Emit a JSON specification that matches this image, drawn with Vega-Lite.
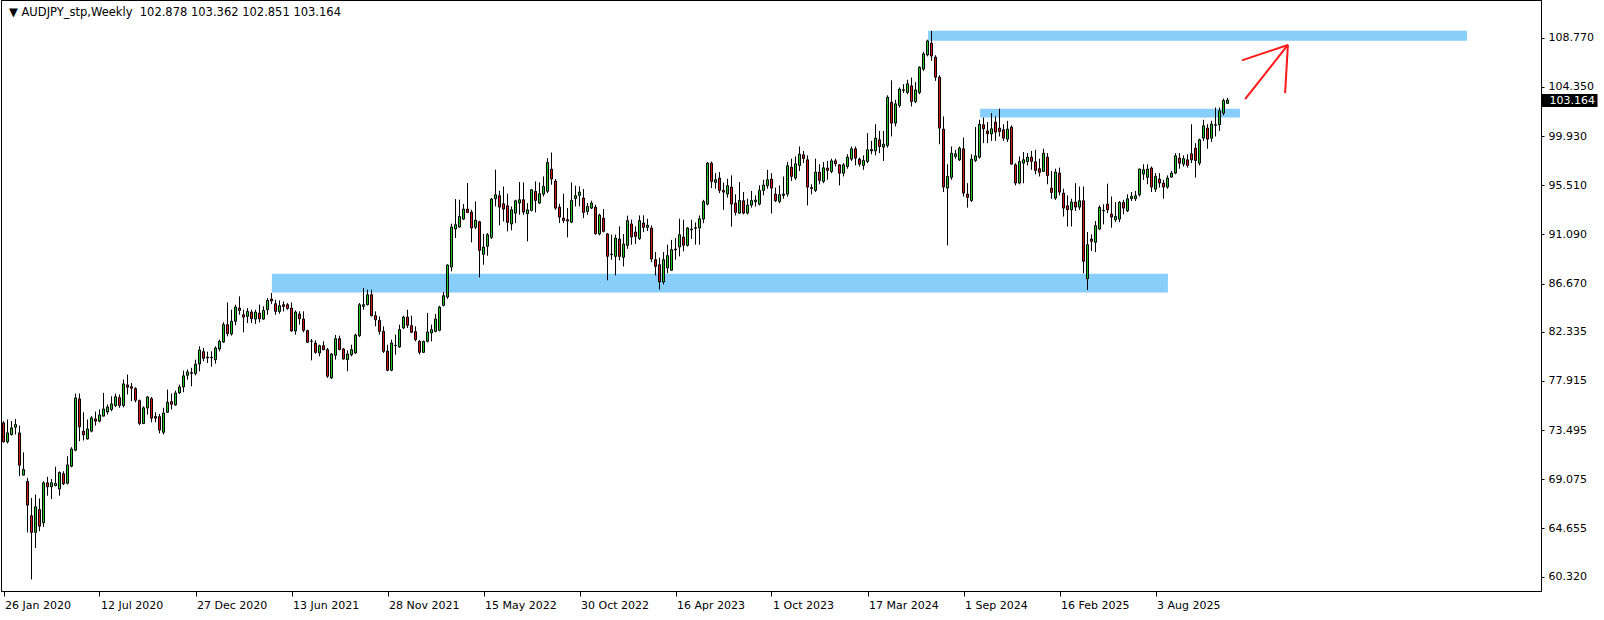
{
"$schema":"https://vega.github.io/schema/vega-lite/v6.json",
"width":1540,"height":591,
"autosize":{"type":"none"},
"padding":{"left":1,"top":0,"right":63,"bottom":29},
"background":"white",
"config":{"view":{"stroke":"black","strokeWidth":1},"font":"DejaVu Sans"},
"title":{"text":"▼ AUDJPY_stp,Weekly\u00a0\u00a0102.878 103.362 102.851 103.164","anchor":"start","frame":"group","orient":"top","offset":-18,"dx":8,"fontSize":11.5,"fontWeight":"normal","font":"DejaVu Sans","color":"black"},
"datasets":{
"candles":[
{"d":"2020-01-26","o":74.15,"h":74.3,"l":72.4,"c":72.44},
{"d":"2020-02-02","o":72.44,"h":74.45,"l":72.3,"c":73.25},
{"d":"2020-02-09","o":73.1,"h":74.3,"l":73.0,"c":73.7},
{"d":"2020-02-16","o":73.75,"h":74.5,"l":73.1,"c":74.0},
{"d":"2020-02-23","o":73.25,"h":73.9,"l":69.35,"c":70.34},
{"d":"2020-03-01","o":69.45,"h":71.5,"l":69.45,"c":69.95},
{"d":"2020-03-08","o":68.88,"h":69.2,"l":64.3,"c":66.75},
{"d":"2020-03-15","o":65.8,"h":67.4,"l":60.07,"c":64.3},
{"d":"2020-03-22","o":64.3,"h":67.7,"l":62.9,"c":66.6},
{"d":"2020-03-29","o":66.36,"h":67.35,"l":64.4,"c":64.86},
{"d":"2020-04-05","o":65.16,"h":68.9,"l":64.8,"c":68.76},
{"d":"2020-04-12","o":68.76,"h":69.3,"l":67.6,"c":68.4},
{"d":"2020-04-19","o":68.4,"h":69.1,"l":67.3,"c":68.76},
{"d":"2020-04-26","o":68.5,"h":70.2,"l":68.45,"c":68.7},
{"d":"2020-05-03","o":68.2,"h":69.77,"l":67.6,"c":69.7},
{"d":"2020-05-10","o":69.57,"h":69.8,"l":68.55,"c":68.67},
{"d":"2020-05-17","o":68.72,"h":71.15,"l":68.6,"c":70.37},
{"d":"2020-05-24","o":70.25,"h":71.96,"l":70.16,"c":71.8},
{"d":"2020-05-31","o":71.69,"h":76.78,"l":71.6,"c":76.39},
{"d":"2020-06-07","o":76.3,"h":76.78,"l":72.5,"c":73.79},
{"d":"2020-06-14","o":73.4,"h":75.1,"l":72.56,"c":73.07},
{"d":"2020-06-21","o":72.7,"h":74.45,"l":72.65,"c":73.6},
{"d":"2020-06-28","o":73.4,"h":74.74,"l":73.3,"c":74.6},
{"d":"2020-07-05","o":74.5,"h":75.16,"l":73.9,"c":74.3},
{"d":"2020-07-12","o":74.3,"h":75.34,"l":74.2,"c":74.86},
{"d":"2020-07-19","o":74.75,"h":76.84,"l":74.75,"c":75.4},
{"d":"2020-07-26","o":75.13,"h":75.8,"l":74.9,"c":75.58},
{"d":"2020-08-02","o":75.35,"h":76.54,"l":75.2,"c":75.85},
{"d":"2020-08-09","o":75.7,"h":76.78,"l":75.58,"c":76.5},
{"d":"2020-08-16","o":76.42,"h":76.7,"l":75.5,"c":75.7},
{"d":"2020-08-23","o":75.7,"h":78.04,"l":75.55,"c":77.65},
{"d":"2020-08-30","o":77.56,"h":78.49,"l":76.7,"c":77.35},
{"d":"2020-09-06","o":77.4,"h":77.74,"l":76.09,"c":77.26},
{"d":"2020-09-13","o":77.23,"h":77.35,"l":76.0,"c":76.18},
{"d":"2020-09-20","o":76.15,"h":76.24,"l":73.94,"c":74.09},
{"d":"2020-09-27","o":74.09,"h":75.64,"l":74.09,"c":75.5},
{"d":"2020-10-04","o":75.49,"h":76.54,"l":74.9,"c":76.48},
{"d":"2020-10-11","o":76.33,"h":76.48,"l":74.2,"c":74.57},
{"d":"2020-10-18","o":74.72,"h":75.1,"l":74.2,"c":74.57},
{"d":"2020-10-25","o":74.7,"h":74.95,"l":73.2,"c":73.5},
{"d":"2020-11-01","o":73.3,"h":75.5,"l":73.1,"c":75.04},
{"d":"2020-11-08","o":75.1,"h":77.14,"l":75.04,"c":76.0},
{"d":"2020-11-15","o":76.06,"h":76.78,"l":75.34,"c":75.82},
{"d":"2020-11-22","o":75.76,"h":77.05,"l":75.7,"c":76.84},
{"d":"2020-11-29","o":76.84,"h":77.59,"l":76.75,"c":77.38},
{"d":"2020-12-06","o":77.38,"h":78.84,"l":76.9,"c":78.37},
{"d":"2020-12-13","o":78.43,"h":78.94,"l":78.04,"c":78.73},
{"d":"2020-12-20","o":78.6,"h":79.1,"l":77.44,"c":78.67},
{"d":"2020-12-27","o":78.58,"h":79.83,"l":78.43,"c":79.44},
{"d":"2021-01-03","o":79.44,"h":81.03,"l":78.79,"c":80.7},
{"d":"2021-01-10","o":80.55,"h":80.88,"l":79.68,"c":79.95},
{"d":"2021-01-17","o":80.07,"h":80.55,"l":79.53,"c":79.98},
{"d":"2021-01-24","o":80.0,"h":80.58,"l":79.2,"c":80.05},
{"d":"2021-01-31","o":79.83,"h":81.03,"l":79.47,"c":80.88},
{"d":"2021-02-07","o":80.79,"h":81.63,"l":80.58,"c":81.48},
{"d":"2021-02-14","o":81.42,"h":83.19,"l":81.33,"c":82.98},
{"d":"2021-02-21","o":82.98,"h":84.98,"l":81.93,"c":82.17},
{"d":"2021-02-28","o":82.14,"h":84.32,"l":81.99,"c":83.28},
{"d":"2021-03-07","o":83.28,"h":84.77,"l":82.92,"c":84.56},
{"d":"2021-03-14","o":84.47,"h":85.52,"l":83.87,"c":84.26},
{"d":"2021-03-21","o":83.87,"h":84.32,"l":82.29,"c":83.66},
{"d":"2021-03-28","o":83.72,"h":84.47,"l":83.13,"c":84.17},
{"d":"2021-04-04","o":84.11,"h":84.32,"l":83.13,"c":83.51},
{"d":"2021-04-11","o":83.48,"h":84.32,"l":83.04,"c":84.11},
{"d":"2021-04-18","o":84.02,"h":84.77,"l":83.19,"c":83.51},
{"d":"2021-04-25","o":83.48,"h":84.62,"l":83.42,"c":84.26},
{"d":"2021-05-02","o":84.32,"h":85.37,"l":83.87,"c":85.16},
{"d":"2021-05-09","o":85.28,"h":85.82,"l":84.83,"c":85.1},
{"d":"2021-05-16","o":84.86,"h":85.22,"l":83.87,"c":84.17},
{"d":"2021-05-23","o":84.17,"h":85.16,"l":83.96,"c":84.68},
{"d":"2021-05-30","o":84.77,"h":85.07,"l":84.17,"c":84.62},
{"d":"2021-06-06","o":84.77,"h":84.92,"l":84.32,"c":84.44},
{"d":"2021-06-13","o":84.47,"h":84.98,"l":82.35,"c":82.41},
{"d":"2021-06-20","o":82.41,"h":84.26,"l":82.08,"c":84.11},
{"d":"2021-06-27","o":83.93,"h":84.17,"l":82.98,"c":83.51},
{"d":"2021-07-04","o":83.48,"h":84.17,"l":82.29,"c":82.47},
{"d":"2021-07-11","o":82.44,"h":82.53,"l":81.33,"c":81.39},
{"d":"2021-07-18","o":81.5,"h":81.69,"l":79.77,"c":81.48},
{"d":"2021-07-25","o":81.33,"h":81.57,"l":80.37,"c":80.49},
{"d":"2021-08-01","o":80.43,"h":81.18,"l":80.13,"c":81.09},
{"d":"2021-08-08","o":81.09,"h":81.48,"l":80.67,"c":80.73},
{"d":"2021-08-15","o":80.73,"h":80.88,"l":78.19,"c":78.34},
{"d":"2021-08-22","o":78.19,"h":80.43,"l":78.1,"c":80.34},
{"d":"2021-08-29","o":80.22,"h":82.05,"l":79.83,"c":81.72},
{"d":"2021-09-05","o":81.72,"h":81.99,"l":80.67,"c":80.73},
{"d":"2021-09-12","o":80.79,"h":80.88,"l":79.83,"c":79.89},
{"d":"2021-09-19","o":79.83,"h":80.67,"l":78.79,"c":80.34},
{"d":"2021-09-26","o":80.28,"h":81.18,"l":80.13,"c":80.73},
{"d":"2021-10-03","o":80.43,"h":82.17,"l":80.37,"c":82.05},
{"d":"2021-10-10","o":81.99,"h":84.92,"l":81.87,"c":84.77},
{"d":"2021-10-17","o":84.62,"h":86.27,"l":84.32,"c":84.77},
{"d":"2021-10-24","o":84.77,"h":86.12,"l":84.71,"c":85.67},
{"d":"2021-10-31","o":85.67,"h":86.12,"l":83.72,"c":83.78},
{"d":"2021-11-07","o":83.78,"h":84.17,"l":82.83,"c":83.42},
{"d":"2021-11-14","o":83.36,"h":83.72,"l":82.08,"c":82.38},
{"d":"2021-11-21","o":82.38,"h":82.83,"l":80.43,"c":80.58},
{"d":"2021-11-28","o":80.6,"h":81.18,"l":78.79,"c":78.88},
{"d":"2021-12-05","o":78.88,"h":81.63,"l":78.79,"c":81.33},
{"d":"2021-12-12","o":81.1,"h":82.08,"l":80.28,"c":81.12},
{"d":"2021-12-19","o":80.97,"h":82.98,"l":80.88,"c":82.53},
{"d":"2021-12-26","o":82.68,"h":83.78,"l":82.59,"c":83.66},
{"d":"2022-01-02","o":83.66,"h":84.32,"l":82.68,"c":82.92},
{"d":"2022-01-09","o":82.89,"h":83.78,"l":82.23,"c":82.29},
{"d":"2022-01-16","o":82.35,"h":82.83,"l":81.48,"c":81.63},
{"d":"2022-01-23","o":81.48,"h":81.6,"l":80.3,"c":80.49},
{"d":"2022-01-30","o":80.49,"h":81.54,"l":80.43,"c":81.48},
{"d":"2022-02-06","o":81.48,"h":84.03,"l":81.39,"c":82.32},
{"d":"2022-02-13","o":82.23,"h":82.98,"l":81.48,"c":82.53},
{"d":"2022-02-20","o":82.38,"h":83.93,"l":82.29,"c":83.49},
{"d":"2022-02-27","o":82.47,"h":84.68,"l":82.38,"c":84.56},
{"d":"2022-03-06","o":84.71,"h":85.91,"l":84.62,"c":85.58},
{"d":"2022-03-13","o":85.46,"h":88.4,"l":85.3,"c":88.34},
{"d":"2022-03-20","o":88.16,"h":92.06,"l":87.77,"c":91.76},
{"d":"2022-03-27","o":91.58,"h":94.27,"l":90.77,"c":91.97},
{"d":"2022-04-03","o":91.76,"h":94.21,"l":91.67,"c":92.71},
{"d":"2022-04-10","o":92.47,"h":93.82,"l":92.41,"c":93.37},
{"d":"2022-04-17","o":93.37,"h":95.71,"l":93.0,"c":93.07},
{"d":"2022-04-24","o":93.1,"h":93.31,"l":90.38,"c":91.67},
{"d":"2022-05-01","o":91.73,"h":94.06,"l":91.58,"c":92.38},
{"d":"2022-05-08","o":92.23,"h":92.32,"l":87.23,"c":89.66},
{"d":"2022-05-15","o":89.3,"h":91.13,"l":88.37,"c":89.96},
{"d":"2022-05-22","o":90.02,"h":91.22,"l":89.18,"c":91.07},
{"d":"2022-05-29","o":90.83,"h":94.36,"l":90.68,"c":94.27},
{"d":"2022-06-05","o":94.3,"h":96.91,"l":93.61,"c":94.66},
{"d":"2022-06-12","o":94.57,"h":95.02,"l":91.91,"c":93.55},
{"d":"2022-06-19","o":93.85,"h":95.41,"l":92.26,"c":93.37},
{"d":"2022-06-26","o":93.67,"h":94.75,"l":91.37,"c":92.17},
{"d":"2022-07-03","o":92.03,"h":93.61,"l":91.46,"c":93.31},
{"d":"2022-07-10","o":93.01,"h":94.21,"l":92.11,"c":94.12},
{"d":"2022-07-17","o":93.91,"h":95.8,"l":92.86,"c":94.21},
{"d":"2022-07-24","o":94.21,"h":95.77,"l":92.86,"c":93.1},
{"d":"2022-07-31","o":92.95,"h":93.91,"l":90.47,"c":93.31},
{"d":"2022-08-07","o":93.25,"h":95.17,"l":93.16,"c":95.11},
{"d":"2022-08-14","o":94.96,"h":95.86,"l":93.07,"c":94.15},
{"d":"2022-08-21","o":93.91,"h":95.77,"l":93.85,"c":94.75},
{"d":"2022-08-28","o":94.72,"h":96.31,"l":94.51,"c":95.41},
{"d":"2022-09-04","o":94.96,"h":97.95,"l":94.81,"c":97.56},
{"d":"2022-09-11","o":96.97,"h":98.46,"l":95.56,"c":96.07},
{"d":"2022-09-18","o":95.89,"h":96.07,"l":93.31,"c":93.46},
{"d":"2022-09-25","o":93.55,"h":93.85,"l":92.11,"c":92.65},
{"d":"2022-10-02","o":92.56,"h":94.75,"l":92.11,"c":92.35},
{"d":"2022-10-09","o":92.41,"h":93.46,"l":90.83,"c":92.29},
{"d":"2022-10-16","o":92.2,"h":95.77,"l":92.11,"c":94.15},
{"d":"2022-10-23","o":94.33,"h":95.47,"l":93.61,"c":94.57},
{"d":"2022-10-30","o":94.6,"h":95.41,"l":93.61,"c":94.9},
{"d":"2022-11-06","o":94.36,"h":95.17,"l":92.56,"c":93.07},
{"d":"2022-11-13","o":93.16,"h":93.91,"l":92.86,"c":93.61},
{"d":"2022-11-20","o":93.46,"h":94.12,"l":93.37,"c":93.91},
{"d":"2022-11-27","o":93.55,"h":93.76,"l":91.07,"c":91.16},
{"d":"2022-12-04","o":91.13,"h":92.95,"l":91.01,"c":92.83},
{"d":"2022-12-11","o":92.56,"h":93.37,"l":91.28,"c":91.37},
{"d":"2022-12-18","o":91.13,"h":91.22,"l":86.97,"c":89.12},
{"d":"2022-12-25","o":89.27,"h":91.07,"l":88.82,"c":89.33},
{"d":"2023-01-01","o":89.12,"h":91.07,"l":87.41,"c":90.77},
{"d":"2023-01-08","o":90.68,"h":91.82,"l":88.76,"c":89.12},
{"d":"2023-01-15","o":89.03,"h":91.13,"l":88.22,"c":90.23},
{"d":"2023-01-22","o":90.11,"h":92.78,"l":89.8,"c":92.33},
{"d":"2023-01-29","o":92.03,"h":92.42,"l":90.17,"c":90.86},
{"d":"2023-02-05","o":91.31,"h":91.82,"l":90.23,"c":90.92},
{"d":"2023-02-12","o":90.71,"h":92.8,"l":90.6,"c":92.33},
{"d":"2023-02-19","o":92.12,"h":92.81,"l":91.3,"c":91.73},
{"d":"2023-02-26","o":91.73,"h":92.5,"l":91.4,"c":91.91},
{"d":"2023-03-05","o":91.67,"h":91.9,"l":88.6,"c":88.88},
{"d":"2023-03-12","o":88.82,"h":89.5,"l":87.4,"c":88.22},
{"d":"2023-03-19","o":88.37,"h":89.0,"l":86.13,"c":86.82},
{"d":"2023-03-26","o":86.82,"h":89.5,"l":86.6,"c":88.82},
{"d":"2023-04-02","o":88.07,"h":90.17,"l":87.6,"c":89.18},
{"d":"2023-04-09","o":87.87,"h":90.6,"l":87.85,"c":89.72},
{"d":"2023-04-16","o":89.7,"h":90.77,"l":88.82,"c":89.78},
{"d":"2023-04-23","o":89.96,"h":92.5,"l":89.12,"c":91.07},
{"d":"2023-04-30","o":90.86,"h":92.41,"l":89.57,"c":90.11},
{"d":"2023-05-07","o":90.11,"h":91.76,"l":90.0,"c":91.67},
{"d":"2023-05-14","o":91.5,"h":92.41,"l":90.68,"c":91.58},
{"d":"2023-05-21","o":91.64,"h":92.17,"l":90.17,"c":91.7},
{"d":"2023-05-28","o":91.67,"h":92.8,"l":90.17,"c":92.5},
{"d":"2023-06-04","o":92.47,"h":94.2,"l":92.1,"c":94.06},
{"d":"2023-06-11","o":93.82,"h":97.6,"l":93.7,"c":97.5},
{"d":"2023-06-18","o":97.5,"h":97.65,"l":95.26,"c":95.86},
{"d":"2023-06-25","o":95.77,"h":96.6,"l":95.2,"c":96.01},
{"d":"2023-07-02","o":96.16,"h":96.7,"l":94.8,"c":95.05},
{"d":"2023-07-09","o":95.05,"h":95.75,"l":93.3,"c":94.9},
{"d":"2023-07-16","o":94.72,"h":96.1,"l":94.4,"c":95.47},
{"d":"2023-07-23","o":95.35,"h":96.4,"l":91.8,"c":93.82},
{"d":"2023-07-30","o":93.91,"h":94.7,"l":92.8,"c":93.07},
{"d":"2023-08-06","o":93.01,"h":95.8,"l":92.95,"c":94.15},
{"d":"2023-08-13","o":94.12,"h":94.9,"l":92.9,"c":93.01},
{"d":"2023-08-20","o":93.01,"h":94.3,"l":92.9,"c":93.73},
{"d":"2023-08-27","o":93.73,"h":95.0,"l":93.5,"c":94.15},
{"d":"2023-09-03","o":94.03,"h":94.6,"l":93.6,"c":94.18},
{"d":"2023-09-10","o":93.82,"h":95.5,"l":93.7,"c":95.05},
{"d":"2023-09-17","o":95.05,"h":96.0,"l":94.6,"c":95.53},
{"d":"2023-09-24","o":95.47,"h":96.9,"l":95.2,"c":96.01},
{"d":"2023-10-01","o":96.07,"h":96.6,"l":92.97,"c":95.26},
{"d":"2023-10-08","o":94.72,"h":95.3,"l":94.0,"c":94.12},
{"d":"2023-10-15","o":94.06,"h":95.5,"l":93.9,"c":94.66},
{"d":"2023-10-22","o":94.6,"h":96.3,"l":94.3,"c":94.72},
{"d":"2023-10-29","o":94.72,"h":97.6,"l":94.5,"c":97.26},
{"d":"2023-11-05","o":97.14,"h":97.9,"l":95.9,"c":96.31},
{"d":"2023-11-12","o":96.16,"h":98.1,"l":96.0,"c":97.44},
{"d":"2023-11-19","o":97.3,"h":99.0,"l":96.8,"c":98.31},
{"d":"2023-11-26","o":98.25,"h":98.6,"l":97.5,"c":97.92},
{"d":"2023-12-03","o":97.8,"h":98.2,"l":93.7,"c":95.35},
{"d":"2023-12-10","o":95.3,"h":95.6,"l":94.7,"c":95.23},
{"d":"2023-12-17","o":95.05,"h":97.9,"l":94.9,"c":96.7},
{"d":"2023-12-24","o":96.7,"h":97.4,"l":95.6,"c":95.95},
{"d":"2023-12-31","o":95.86,"h":97.6,"l":95.7,"c":97.08},
{"d":"2024-01-07","o":97.05,"h":97.7,"l":96.0,"c":96.85},
{"d":"2024-01-14","o":96.75,"h":97.9,"l":96.6,"c":97.71},
{"d":"2024-01-21","o":97.71,"h":97.9,"l":97.2,"c":97.44},
{"d":"2024-01-28","o":97.35,"h":97.4,"l":95.5,"c":96.6},
{"d":"2024-02-04","o":96.6,"h":97.5,"l":96.3,"c":97.35},
{"d":"2024-02-11","o":97.2,"h":98.3,"l":97.0,"c":98.04},
{"d":"2024-02-18","o":97.86,"h":99.0,"l":97.7,"c":98.79},
{"d":"2024-02-25","o":98.79,"h":99.0,"l":97.3,"c":97.95},
{"d":"2024-03-03","o":97.86,"h":98.0,"l":97.2,"c":97.41},
{"d":"2024-03-10","o":97.29,"h":98.2,"l":96.9,"c":97.74},
{"d":"2024-03-17","o":97.65,"h":100.2,"l":97.5,"c":98.7},
{"d":"2024-03-24","o":98.6,"h":99.5,"l":98.3,"c":98.72},
{"d":"2024-03-31","o":98.6,"h":101.0,"l":98.2,"c":99.75},
{"d":"2024-04-07","o":99.6,"h":100.4,"l":98.4,"c":99.0},
{"d":"2024-04-14","o":98.94,"h":100.4,"l":97.7,"c":99.21},
{"d":"2024-04-21","o":99.09,"h":103.6,"l":98.9,"c":103.43},
{"d":"2024-04-28","o":102.98,"h":104.95,"l":99.9,"c":101.1},
{"d":"2024-05-05","o":101.1,"h":103.2,"l":100.8,"c":102.83},
{"d":"2024-05-12","o":102.68,"h":104.3,"l":102.5,"c":104.15},
{"d":"2024-05-19","o":104.03,"h":104.6,"l":103.8,"c":104.09},
{"d":"2024-05-26","o":103.85,"h":105.0,"l":103.7,"c":104.63},
{"d":"2024-06-02","o":104.45,"h":105.2,"l":102.6,"c":103.04},
{"d":"2024-06-09","o":103.04,"h":104.8,"l":102.9,"c":104.09},
{"d":"2024-06-16","o":103.85,"h":106.2,"l":103.7,"c":106.13},
{"d":"2024-06-23","o":105.95,"h":107.5,"l":105.8,"c":107.32},
{"d":"2024-06-30","o":107.23,"h":108.6,"l":107.1,"c":108.49},
{"d":"2024-07-07","o":108.28,"h":109.4,"l":106.7,"c":107.14},
{"d":"2024-07-14","o":107.03,"h":107.2,"l":104.9,"c":105.23},
{"d":"2024-07-21","o":105.23,"h":105.4,"l":99.2,"c":100.65},
{"d":"2024-07-28","o":100.56,"h":101.7,"l":94.9,"c":95.35},
{"d":"2024-08-04","o":95.26,"h":97.4,"l":90.1,"c":96.31},
{"d":"2024-08-11","o":96.22,"h":99.0,"l":96.0,"c":98.4},
{"d":"2024-08-18","o":98.1,"h":98.7,"l":97.9,"c":98.34},
{"d":"2024-08-25","o":97.8,"h":99.0,"l":97.7,"c":98.85},
{"d":"2024-09-01","o":98.79,"h":99.8,"l":94.5,"c":94.81},
{"d":"2024-09-08","o":94.72,"h":95.7,"l":93.5,"c":94.42},
{"d":"2024-09-15","o":94.15,"h":98.3,"l":94.0,"c":97.86},
{"d":"2024-09-22","o":97.74,"h":100.75,"l":97.6,"c":98.16},
{"d":"2024-09-29","o":98.04,"h":101.4,"l":97.9,"c":101.0},
{"d":"2024-10-06","o":100.95,"h":101.6,"l":99.3,"c":100.59},
{"d":"2024-10-13","o":100.4,"h":101.2,"l":99.3,"c":100.14},
{"d":"2024-10-20","o":100.14,"h":102.0,"l":99.5,"c":100.59},
{"d":"2024-10-27","o":101.19,"h":101.7,"l":99.5,"c":100.29},
{"d":"2024-11-03","o":100.65,"h":102.4,"l":99.9,"c":100.35},
{"d":"2024-11-10","o":100.5,"h":101.0,"l":99.5,"c":99.75},
{"d":"2024-11-17","o":99.66,"h":101.3,"l":99.4,"c":100.56},
{"d":"2024-11-24","o":100.74,"h":100.9,"l":97.4,"c":97.41},
{"d":"2024-12-01","o":97.35,"h":97.5,"l":95.5,"c":95.71},
{"d":"2024-12-08","o":95.71,"h":98.1,"l":95.6,"c":97.65},
{"d":"2024-12-15","o":97.5,"h":98.5,"l":95.7,"c":97.8},
{"d":"2024-12-22","o":97.65,"h":98.4,"l":97.3,"c":98.04},
{"d":"2024-12-29","o":98.04,"h":98.6,"l":96.9,"c":97.65},
{"d":"2025-01-05","o":97.62,"h":98.7,"l":96.5,"c":96.85},
{"d":"2025-01-12","o":97.0,"h":97.9,"l":96.3,"c":96.67},
{"d":"2025-01-19","o":96.76,"h":98.8,"l":96.7,"c":98.4},
{"d":"2025-01-26","o":98.04,"h":98.4,"l":95.6,"c":96.37},
{"d":"2025-02-02","o":95.26,"h":96.8,"l":94.3,"c":94.87},
{"d":"2025-02-09","o":94.36,"h":97.0,"l":94.2,"c":96.7},
{"d":"2025-02-16","o":96.61,"h":97.1,"l":94.6,"c":94.9},
{"d":"2025-02-23","o":94.81,"h":95.2,"l":92.7,"c":93.46},
{"d":"2025-03-02","o":93.67,"h":94.6,"l":91.8,"c":93.31},
{"d":"2025-03-09","o":93.31,"h":94.3,"l":91.8,"c":94.0},
{"d":"2025-03-16","o":94.0,"h":95.7,"l":93.2,"c":93.55},
{"d":"2025-03-23","o":93.55,"h":95.4,"l":93.3,"c":94.12},
{"d":"2025-03-30","o":94.12,"h":95.4,"l":87.6,"c":88.67},
{"d":"2025-04-06","o":87.1,"h":91.3,"l":86.1,"c":90.17},
{"d":"2025-04-13","o":90.68,"h":91.1,"l":89.6,"c":90.47},
{"d":"2025-04-20","o":90.38,"h":92.3,"l":89.5,"c":91.88},
{"d":"2025-04-27","o":91.58,"h":93.7,"l":91.5,"c":93.52},
{"d":"2025-05-04","o":93.2,"h":93.8,"l":92.0,"c":93.25},
{"d":"2025-05-11","o":93.82,"h":95.65,"l":93.0,"c":93.31},
{"d":"2025-05-18","o":92.92,"h":94.5,"l":91.7,"c":92.65},
{"d":"2025-05-25","o":92.41,"h":94.0,"l":92.2,"c":92.71},
{"d":"2025-06-01","o":92.47,"h":94.1,"l":92.2,"c":93.97},
{"d":"2025-06-08","o":93.97,"h":94.2,"l":92.9,"c":93.46},
{"d":"2025-06-15","o":93.22,"h":94.7,"l":93.1,"c":94.3},
{"d":"2025-06-22","o":94.3,"h":94.9,"l":94.1,"c":94.51},
{"d":"2025-06-29","o":94.3,"h":95.0,"l":94.1,"c":94.57},
{"d":"2025-07-06","o":94.66,"h":97.0,"l":94.5,"c":96.97},
{"d":"2025-07-13","o":96.52,"h":97.4,"l":96.0,"c":96.91},
{"d":"2025-07-20","o":96.22,"h":97.4,"l":95.6,"c":96.97},
{"d":"2025-07-27","o":97.06,"h":97.2,"l":94.9,"c":95.35},
{"d":"2025-08-03","o":95.17,"h":96.6,"l":94.9,"c":96.31},
{"d":"2025-08-10","o":96.07,"h":96.6,"l":95.3,"c":95.71},
{"d":"2025-08-17","o":95.71,"h":96.0,"l":94.3,"c":95.35},
{"d":"2025-08-24","o":95.35,"h":96.4,"l":95.2,"c":96.16},
{"d":"2025-08-31","o":96.25,"h":96.8,"l":96.2,"c":96.61},
{"d":"2025-09-07","o":96.61,"h":98.4,"l":96.5,"c":98.16},
{"d":"2025-09-14","o":97.95,"h":98.4,"l":97.0,"c":97.5},
{"d":"2025-09-21","o":97.41,"h":98.2,"l":97.2,"c":97.9},
{"d":"2025-09-28","o":97.8,"h":98.3,"l":97.1,"c":97.3},
{"d":"2025-10-05","o":98.34,"h":101.0,"l":97.5,"c":97.8},
{"d":"2025-10-12","o":98.85,"h":99.3,"l":96.2,"c":97.74},
{"d":"2025-10-19","o":97.5,"h":99.7,"l":97.3,"c":99.6},
{"d":"2025-10-26","o":99.75,"h":101.4,"l":99.5,"c":100.86},
{"d":"2025-11-02","o":100.65,"h":101.0,"l":98.8,"c":99.66},
{"d":"2025-11-09","o":99.75,"h":101.3,"l":99.4,"c":101.01},
{"d":"2025-11-16","o":100.9,"h":102.5,"l":99.9,"c":100.95},
{"d":"2025-11-23","o":100.95,"h":102.5,"l":100.4,"c":102.2},
{"d":"2025-11-30","o":101.99,"h":103.3,"l":101.8,"c":103.13},
{"d":"2025-12-07","o":102.878,"h":103.362,"l":102.851,"c":103.164}
],
"zones":[
{"start":"2024-07-01T00:00:00Z","end":"2027-01-30T07:00:00Z","low":108.5,"high":109.4},
{"start":"2024-09-30T00:00:00Z","end":"2025-12-28T17:00:00Z","low":101.6,"high":102.4},
{"start":"2021-05-09T17:00:00Z","end":"2025-08-24T17:00:00Z","low":85.87,"high":87.55}
],
"arrow":[
{"from":"2026-01-06T19:00:00Z","to":"2026-03-22T17:00:00Z","p1":103.26,"p2":108.13},
{"from":"2026-01-01T05:00:00Z","to":"2026-03-22T17:00:00Z","p1":106.74,"p2":108.13},
{"from":"2026-03-17T19:00:00Z","to":"2026-03-22T17:00:00Z","p1":103.8,"p2":108.13}
]
},
"encoding":{
"x":{"field":"d","type":"temporal","scale":{"type":"utc","padding":0,"domain":[{"year":2020,"month":1,"date":21,"hours":15,"utc":true},{"year":2027,"month":6,"date":8,"hours":15,"utc":true}]}}
},
"resolve":{"axis":{"y":"independent"}},
"layer":[
{"data":{"name":"zones"},"mark":{"type":"rect","color":"#87cefa","opacity":1},
 "encoding":{"x":{"field":"start","type":"temporal"},"x2":{"field":"end"},
 "y":{"field":"low","type":"quantitative","axis":null,"scale":{"domain":[59.03,112.17],"nice":false,"zero":false}},"y2":{"field":"high"}}},
{"data":{"name":"candles"},"mark":{"type":"rule","color":"black","strokeWidth":1},
 "encoding":{"x":{"field":"d","type":"temporal","axis":{"title":null,"values":[{"year":2020,"month":1,"date":26,"utc":true},{"year":2020,"month":7,"date":12,"utc":true},{"year":2020,"month":12,"date":27,"utc":true},{"year":2021,"month":6,"date":13,"utc":true},{"year":2021,"month":11,"date":28,"utc":true},{"year":2022,"month":5,"date":15,"utc":true},{"year":2022,"month":10,"date":30,"utc":true},{"year":2023,"month":4,"date":16,"utc":true},{"year":2023,"month":10,"date":1,"utc":true},{"year":2024,"month":3,"date":17,"utc":true},{"year":2024,"month":9,"date":1,"utc":true},{"year":2025,"month":2,"date":16,"utc":true},{"year":2025,"month":8,"date":3,"utc":true}],"format":"%-d %b %Y","grid":false,"domain":true,"domainColor":"black","ticks":true,"tickColor":"black","tickSize":5,"labelAlign":"left","labelOffset":1,"labelBaseline":"top","labelPadding":3,"labelFont":"DejaVu Sans","labelFontSize":11,"labelColor":"black","labelOverlap":false,"labelFlush":false,"labelBound":false}},
 "y":{"field":"l","type":"quantitative","scale":{"domain":[59.03,112.17],"nice":false,"zero":false},"axis":{"title":null,"orient":"right","values":[60.32,64.655,69.075,73.495,77.915,82.335,86.67,91.09,95.51,99.93,104.35,108.77],"format":".3f","grid":false,"domainColor":"black","tickColor":"black","tickSize":3,"labelPadding":4,"labelAlign":"left","labelBaseline":"middle","labelFont":"DejaVu Sans","labelFontSize":11,"labelColor":"black","labelOverlap":false,"labelFlush":false,"labelBound":false}},
 "y2":{"field":"h"}}},
{"data":{"name":"candles"},"mark":{"type":"bar","size":2,"stroke":"black","strokeWidth":1},
 "encoding":{"x":{"field":"d","type":"temporal"},
 "y":{"field":"o","type":"quantitative","scale":{"domain":[59.03,112.17],"nice":false,"zero":false},"axis":{"title":null,"orient":"right","values":[103.164],"format":".3f","grid":false,"domain":false,"tickColor":"black","tickSize":56,"tickWidth":13,"labelPadding":-48,"labelAlign":"left","labelBaseline":"middle","labelFont":"DejaVu Sans","labelFontSize":11,"labelColor":"white","labelOverlap":false,"labelFlush":false,"labelBound":false}},
 "y2":{"field":"c"},
 "fill":{"condition":{"test":"datum.c >= datum.o","value":"#1ec81e"},"value":"#d81414"}}},
{"data":{"name":"arrow"},"mark":{"type":"rule","color":"#ff1a1a","strokeWidth":2},
 "encoding":{"x":{"field":"from","type":"temporal"},"x2":{"field":"to"},
 "y":{"field":"p1","type":"quantitative","axis":null,"scale":{"domain":[59.03,112.17],"nice":false,"zero":false}},"y2":{"field":"p2"}}}
]
}
